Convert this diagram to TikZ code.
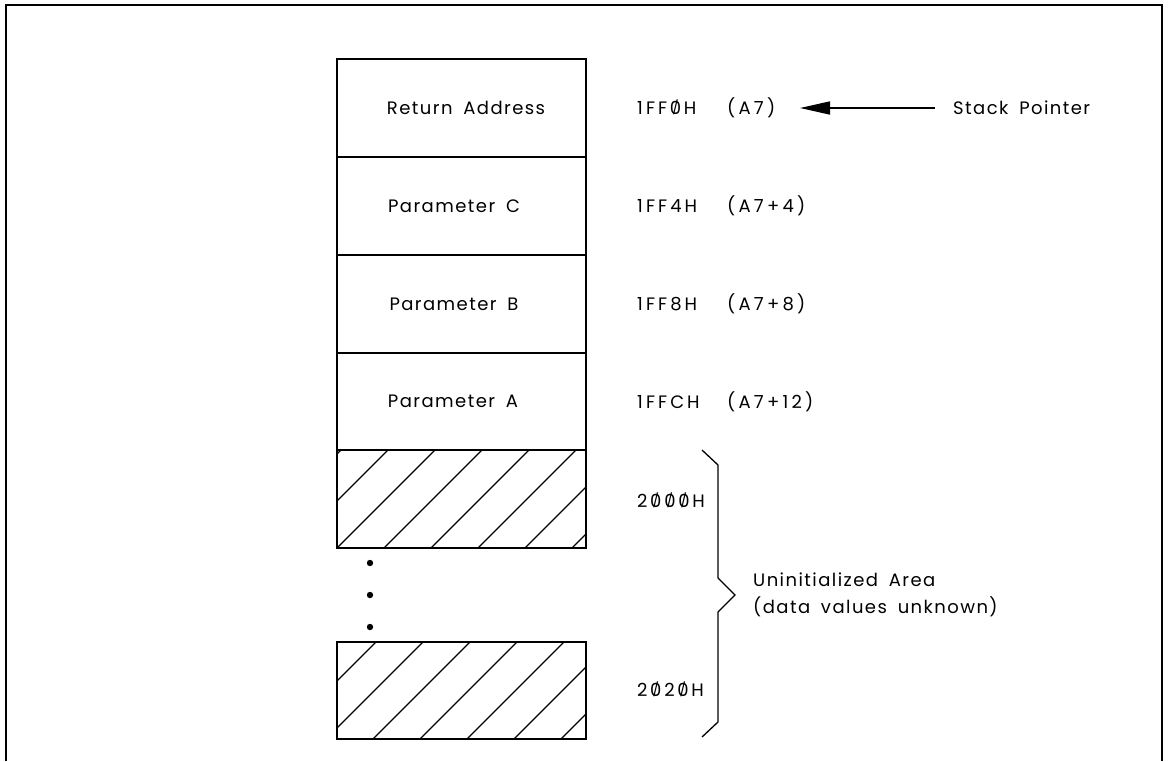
\documentclass[tikz,border=0pt]{standalone}
\usepackage{fontspec}
\usepackage{graphicx}
\setmainfont{Poppins}[LetterSpace=8]
\usetikzlibrary{arrows.meta}

% slashed zero as used in the listing font, with tracking kerns around it
\newcommand\slzero{\ooalign{0\cr\hidewidth\raisebox{0.12ex}{\scalebox{0.75}{/}}\hidewidth\cr}}
\newcommand\zk{\kern0.15em}
\newcommand\wsp{\hspace{0.6em}}

\tikzset{
  frame/.style={line width=1.6pt},
  txt/.style={font=\fontsize{18}{20}\selectfont},
  cell/.style={draw, txt, line width=1.5pt, minimum width=249pt, minimum height=98pt,
               inner sep=0pt, text depth=0pt},
  lbl/.style={anchor=west, txt, inner sep=0pt},
  addr/.style={lbl, font=\fontsize{18}{20}\selectfont\addfontfeature{LetterSpace=17}},
  offs/.style={lbl, font=\fontsize{18}{20}\selectfont\addfontfeature{LetterSpace=18}},
  hatchbox/.style={draw, line width=1.5pt},
  hatch/.style={line width=1.3pt},
  brace/.style={line width=1.3pt},
  ptr/.style={line width=1.6pt, -{Triangle[length=30pt,width=13pt]}},
}

\begin{document}
\begin{tikzpicture}[x=1pt,y=-1pt]
\useasboundingbox (0,0) rectangle (1168,761);

% outer frame, open at the bottom
\draw[frame] (6,761) -- (6,5) -- (1162,5) -- (1162,761);

% stack cells
\node[cell] (ret)  at (461.5,108) {};
\node[cell] (parC) at (461.5,206) {};
\node[cell] (parB) at (461.5,304) {};
\node[cell] (parA) at (461.5,401.5) {};
\node[lbl, anchor=center] (tret) at (466,108)   {Return\wsp Address};
\node[lbl, anchor=center] (tC)   at (454,206)   {Parameter\wsp C};
\node[lbl, anchor=center] (tB)   at (454,304)   {Parameter\wsp B};
\node[lbl, anchor=center] (tA)   at (453,401.5) {Parameter\wsp A};

% uninitialized cells with hatching
\begin{scope}
  \clip (337,450) rectangle (586,548);
  \foreach \c in {791,838,885,932,979,1026,1073,1120}
    \draw[hatch] (\c-548,548) -- (\c-450,450);
\end{scope}
\draw[hatchbox] (337,450) rectangle (586,548);

\begin{scope}
  \clip (337,642) rectangle (586,739);
  \foreach \c in {1018,1065,1112,1159,1206,1253,1300}
    \draw[hatch] (\c-739,739) -- (\c-642,642);
\end{scope}
\draw[hatchbox] (337,642) rectangle (586,739);

% continuation dots
\foreach \y in {563,595,627}
  \fill (370,\y) circle (3.2pt);

% addresses
\node[addr] (a0) at (637,108) {1FF\zk\slzero\zk H};
\node[addr] (a4) at (637,206) {1FF4H};
\node[addr] (a8) at (637,304) {1FF8H};
\node[addr] (ac) at (637,402) {1FFCH};
\node[addr] (b0) at (637,501) {2\zk\slzero\zk\slzero\zk\slzero\zk H};
\node[addr] (b2) at (637,690) {2\zk\slzero\zk2\zk\slzero\zk H};

% register-relative offsets
\node[offs] (r0) at (727,108) {(A7)};
\node[offs] (r4) at (727,206) {(A7+4)};
\node[offs] (r8) at (727,304) {(A7+8)};
\node[offs] (rc) at (727,402) {(A7+12)};

% stack pointer
\node[lbl] (sp) at (953,108) {Stack\wsp Pointer};
\draw[ptr] ([xshift=-18pt]sp.west) -- (800,108);

% brace over the uninitialized area
\draw[brace] (702,450) -- (718,465) -- (718,578) -- (735,595)
             -- (718,612) -- (718,722) -- (702,737);
\node[lbl] (un1) at (753,580) {Uninitialized\wsp Area};
\node[lbl] (un2) at (753,607) {(data\wsp values\wsp unknown)};
\end{tikzpicture}
\end{document}
